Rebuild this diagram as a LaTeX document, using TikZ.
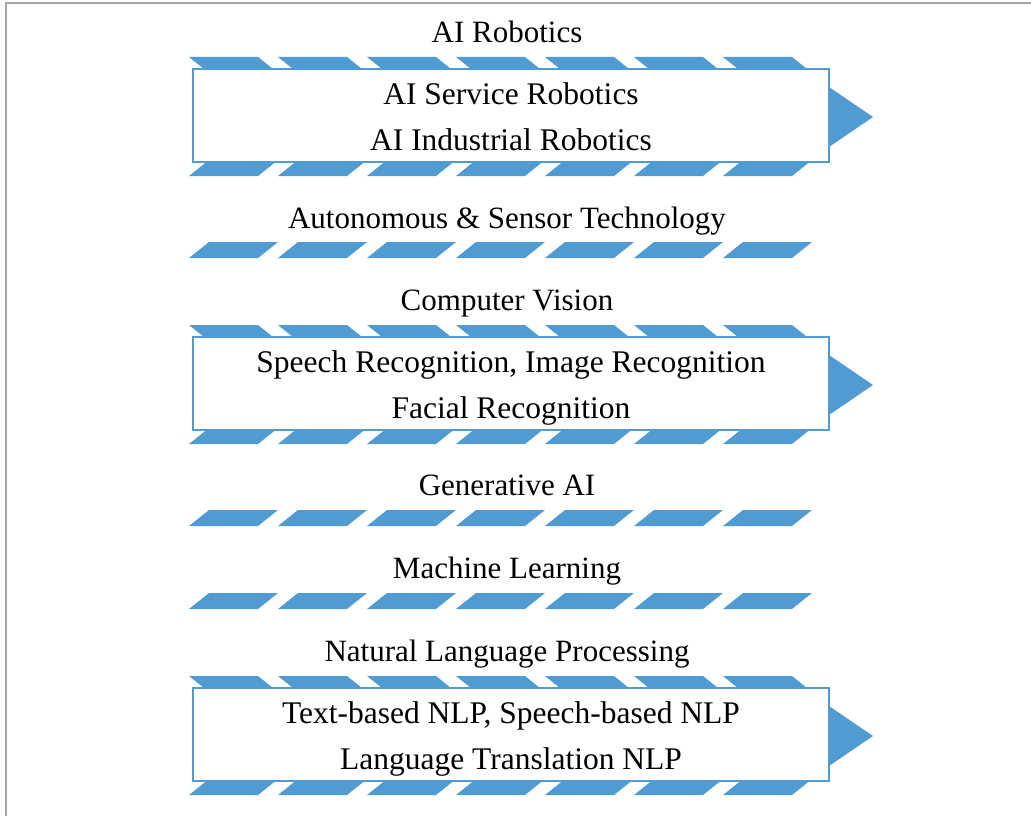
\documentclass[tikz,border=0pt]{standalone}
\usepackage{fontspec}
\setmainfont{Liberation Serif}
\usetikzlibrary{positioning}
\definecolor{aiblue}{RGB}{79,155,210}
\definecolor{framegray}{RGB}{165,165,165}
\newcommand\linestrut{\rule[-11.3pt]{0pt}{46pt}}

\begin{document}
\begin{tikzpicture}[x=1pt, y=-1pt,
    title/.style = {anchor=base, inner sep=0pt, font=\fontsize{31}{46}\selectfont},
    box/.style = {draw=aiblue, line width=2pt, fill=white, minimum width=636pt, minimum height=93pt, inner sep=0pt, align=center, font=\fontsize{31.5}{46}\selectfont},
    stripe/.style = {fill=aiblue},
    tip/.style = {fill=aiblue}]
					\useasboundingbox (0,0) rectangle (1031,816);
					\draw[framegray, line width=2pt] (6,816) -- (6,3) -- (1031,3);

					% thin rows
					\foreach \b in {258,526,609}
					\foreach \i in {0,...,6}
					\fill[stripe] ({189+89*\i},\b) -- ++(69,0) -- ++(20,-16) -- ++(-69,0) -- cycle;

					% bands behind the boxes
					\foreach \t/\b in {57/176,325/444,676/795}
					\foreach \i in {0,...,6} {
					\fill[stripe] ({189+89*\i},\t) -- ++(69,0) -- ++(20,16) -- ++(-69,0) -- cycle;
					\fill[stripe] ({189+89*\i},\b) -- ++(69,0) -- ++(20,-16) -- ++(-69,0) -- cycle;
					}

					\node[box] (robo) at (511,115.5) {\linestrut AI Service Robotics\\\linestrut AI Industrial Robotics};
					\node[box] (vision) at (511,383.5) {\linestrut Speech Recognition, Image Recognition\\\linestrut Facial Recognition};
					\node[box] (nlp) at (511,734.5) {\linestrut Text-based NLP, Speech-based NLP\\\linestrut Language Translation NLP};

					\fill[tip] (robo.east) ++(-1,-28.5) -- ++(44,30) -- ++(-44,30) -- cycle;
					\fill[tip] (vision.east) ++(-1,-28.5) -- ++(44,30) -- ++(-44,30) -- cycle;
					\fill[tip] (nlp.east) ++(-1,-28.5) -- ++(44,30) -- ++(-44,30) -- cycle;

					\node[title] (roboT) at (507,43) {AI Robotics};
					\node[title] (auto) at (507,228) {Autonomous \& Sensor Technology};
					\node[title] (visionT) at (507,310) {Computer Vision};
					\node[title] (gen) at (507,495) {Generative AI};
					\node[title] (ml) at (507,578) {Machine Learning};
					\node[title] (nlpT) at (507,661) {Natural Language Processing};
				\end{tikzpicture}
\end{document}
